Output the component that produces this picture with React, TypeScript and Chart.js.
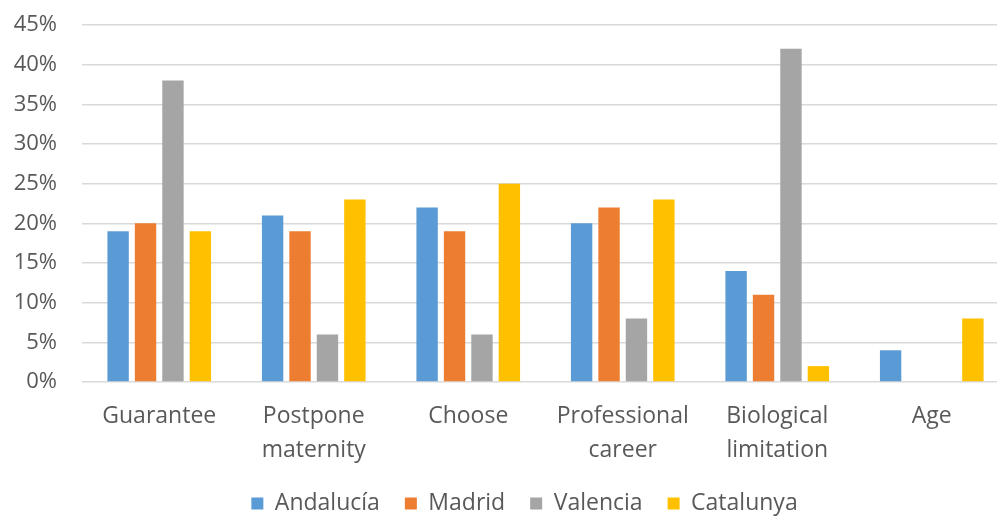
import React, { useEffect, useRef } from "react";
import { Chart, registerables } from "chart.js";

Chart.register(...registerables);

const categories: (string | string[])[] = [
  "Guarantee",
  ["Postpone", "maternity"],
  "Choose",
  ["Professional", "career"],
  ["Biological", "limitation"],
  "Age",
];
const andalucia = [19, 21, 22, 20, 14, 4];
const madrid = [20, 19, 19, 22, 11, 0];
const valencia = [38, 6, 6, 8, 42, 0];
const catalunya = [19, 23, 25, 23, 2, 8];
const yTicks = [0, 5, 10, 15, 20, 25, 30, 35, 40, 45];

const FONT = "'Open Sans', 'Noto Sans', sans-serif";
const TEXT = "#595959";

const legendShift = {
  id: "legendShift",
  afterLayout(chart: any) {
    const lg = chart.legend;
    if (!lg) return;
    const target = 524.5;
    const d = target - (lg.left + lg.right) / 2;
    lg.left += d;
    lg.right += d;
  },
};

export default function App() {
  const ref = useRef<HTMLCanvasElement | null>(null);
  useEffect(() => {
    document.body.style.margin = "0";
    const ctx = ref.current!;
    const mk = (label: string, data: number[], color: string) => ({
      label,
      data,
      backgroundColor: color,
      borderColor: color,
      borderWidth: 0,
      categoryPercentage: 0.71,
      barPercentage: 0.78,
    });
    const chart = new Chart(ctx, {
      type: "bar",
      data: {
        labels: categories as any,
        datasets: [
          mk("Andalucía", andalucia, "#5B9BD5"),
          mk("Madrid", madrid, "#ED7D31"),
          mk("Valencia", valencia, "#A5A5A5"),
          mk("Catalunya", catalunya, "#FFC000"),
        ],
      },
      plugins: [legendShift],
      options: {
        animation: false,
        responsive: false,
        maintainAspectRatio: false,
        layout: { padding: { top: 0, right: 0, left: 0, bottom: -9 } },
        plugins: {
          tooltip: { enabled: false },
          legend: {
            position: "bottom",
            labels: {
              boxWidth: 12,
              boxHeight: 12,
              padding: 25,
              color: TEXT,
              font: { family: FONT, size: 23 },
            },
          },
        },
        scales: {
          x: {
            grid: { display: false, drawTicks: false },
            border: { display: false },
            afterFit: (scale: any) => {
              scale.height = 85;
            },
            ticks: {
              color: TEXT,
              padding: 17,
              maxRotation: 0,
              autoSkip: false,
              font: { family: FONT, size: 23, lineHeight: 1.48 },
            },
          },
          y: {
            min: 0,
            max: 45,
            afterBuildTicks: (scale: any) => {
              scale.ticks = yTicks.map((v) => ({ value: v }));
            },
            afterFit: (scale: any) => {
              scale.width = 82;
              scale.paddingTop = 25;
              scale.paddingBottom = 0;
            },
            grid: { color: "#d9d9d9", lineWidth: 1.5, drawTicks: false },
            border: { display: false },
            ticks: {
              color: TEXT,
              padding: 25,
              callback: (v: any) => v + "%",
              font: { family: FONT, size: 22 },
            },
          },
        },
      },
    });
    return () => chart.destroy();
  }, []);
  return (
    <div style={{ position: "absolute", left: 0, top: 0, width: 997, height: 516, background: "#fff", overflow: "hidden" }}>
      <canvas ref={ref} width={1009} height={516} />
    </div>
  );
}
